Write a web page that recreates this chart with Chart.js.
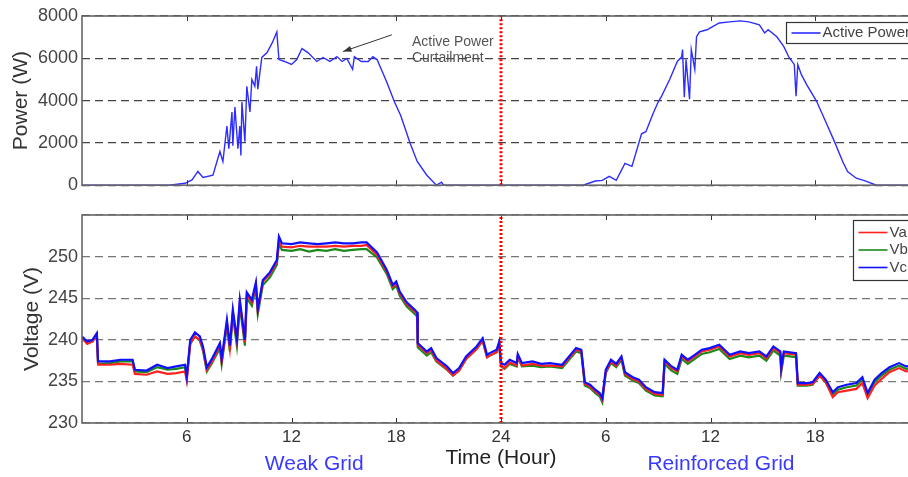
<!DOCTYPE html>
<html>
<head>
<meta charset="utf-8">
<script src="https://cdn.jsdelivr.net/npm/chart.js@4"></script>
<style>
  html, body { margin: 0; padding: 0; background: #fff; overflow: hidden; }
  #wrap { position: relative; width: 930px; height: 477px; }
  canvas { position: absolute; left: 0; }
  #powerChart { top: 0; }
  #voltChart { top: 200px; }
</style>
</head>
<body>
<div id="wrap">
  <canvas id="powerChart" width="930" height="200"></canvas>
  <canvas id="voltChart" width="930" height="277"></canvas>
</div>
<script>
// data (hours from start of day 1)
const powerHours = [0, 5.0, 5.9, 6.3, 6.64, 6.93, 7.5, 7.9, 8.07, 8.3, 8.41, 8.59, 8.64, 8.76, 8.93, 9.04, 9.1, 9.16, 9.33, 9.44, 9.62, 9.73, 9.9, 10.0, 10.07, 10.3, 10.6, 10.9, 11.16, 11.28, 11.6, 12.0, 12.3, 12.6, 12.94, 13.45, 13.8, 14.2, 14.6, 14.9, 15.17, 15.5, 15.6, 16.0, 16.4, 16.66, 16.9, 17.46, 17.9, 18.26, 18.8, 19.2, 19.75, 20.3, 20.6, 20.7, 28.7, 29.4, 29.8, 30.2, 30.6, 31.1, 31.5, 32.05, 32.3, 32.7, 33.0, 33.2, 33.66, 34.1, 34.35, 34.4, 34.5, 34.6, 34.8, 34.9, 35.1, 35.2, 35.37, 35.8, 36.1, 36.5, 37.1, 37.7, 38.2, 38.8, 39.1, 39.3, 39.8, 40.2, 40.5, 40.8, 40.9, 41.0, 41.2, 41.5, 42.07, 42.6, 43.1, 43.57, 43.85, 44.35, 44.9, 45.5, 48];
const powerWatts = [0, 0, 90, 250, 650, 370, 470, 1590, 1120, 2800, 1730, 3460, 1870, 3700, 1730, 2800, 1400, 3930, 2060, 4680, 3460, 5000, 4680, 5620, 4540, 6040, 6270, 6740, 7250, 5940, 5850, 5710, 5940, 6460, 6270, 5850, 6040, 5850, 6080, 5850, 5990, 5480, 6080, 5850, 5850, 6080, 5940, 4870, 3930, 3280, 1970, 1120, 470, 0, 140, 0, 0, 200, 230, 420, 230, 1030, 890, 2430, 2530, 3370, 3930, 4210, 5000, 5850, 6080, 6410, 4160, 5940, 4070, 6410, 5480, 7020, 7250, 7350, 7490, 7670, 7720, 7770, 7720, 7580, 7200, 7350, 7020, 6550, 6040, 5710, 4210, 5710, 5240, 4770, 3980, 3000, 2060, 1120, 650, 330, 190, 0, 0];

const voltHours = [0, 0.3, 0.6, 0.85, 0.92, 1.6, 2.2, 2.9, 3.03, 3.7, 4.3, 4.9, 5.4, 5.9, 6.0, 6.2, 6.47, 6.75, 6.93, 7.15, 7.44, 7.9, 8.0, 8.3, 8.47, 8.64, 8.87, 9.04, 9.33, 9.44, 9.73, 9.96, 10.07, 10.36, 10.76, 11.16, 11.28, 11.45, 12.0, 12.5, 13.0, 13.5, 14.0, 14.5, 15.0, 15.5, 16.0, 16.3, 16.9, 17.46, 17.8, 18.0, 18.2, 18.6, 19.06, 19.2, 19.23, 19.75, 20.0, 20.3, 20.9, 21.25, 21.6, 22.0, 22.6, 22.95, 23.2, 23.35, 23.75, 23.9, 24.0, 24.2, 24.5, 24.9, 24.96, 25.2, 25.8, 26.3, 26.8, 27.5, 27.9, 28.3, 28.6, 28.8, 29.1, 29.4, 29.65, 29.8, 30.0, 30.3, 30.6, 30.9, 31.1, 31.55, 31.9, 32.3, 32.8, 33.26, 33.37, 33.77, 34.1, 34.35, 34.7, 35.1, 35.5, 35.95, 36.5, 37.1, 37.7, 38.2, 38.8, 39.2, 39.6, 40.0, 40.05, 40.2, 40.9, 41.0, 41.5, 41.85, 42.25, 42.6, 43.0, 43.3, 43.8, 44.35, 44.7, 45.0, 45.4, 45.8, 46.25, 46.8, 47.2, 48];
const vcVolts = [240.4, 239.8, 240.0, 240.8, 237.4, 237.4, 237.6, 237.6, 236.4, 236.3, 237.0, 236.6, 236.8, 237.0, 235.6, 240.0, 240.9, 240.4, 239.2, 236.7, 237.7, 239.6, 237.7, 242.4, 239.3, 243.6, 240.1, 244.8, 240.0, 245.7, 244.8, 246.9, 243.7, 247.2, 248.1, 249.6, 252.4, 251.6, 251.5, 251.7, 251.6, 251.5, 251.6, 251.7, 251.6, 251.6, 251.7, 251.7, 250.5, 248.4, 246.6, 247.0, 245.8, 244.5, 243.6, 243.3, 239.6, 238.6, 239.0, 237.8, 236.8, 236.0, 236.6, 238.0, 239.2, 240.2, 238.2, 238.4, 238.8, 239.8, 237.2, 237.0, 237.6, 237.2, 238.3, 237.2, 237.4, 237.1, 237.2, 237.0, 238.0, 239.0, 238.8, 234.9, 234.6, 234.0, 233.6, 233.0, 236.4, 237.6, 237.1, 238.0, 236.1, 235.5, 235.2, 234.3, 233.7, 233.6, 237.6, 236.8, 236.4, 238.2, 237.6, 238.2, 238.8, 239.0, 239.4, 238.2, 238.6, 238.4, 238.6, 238.0, 239.2, 238.6, 236.6, 238.6, 238.4, 234.8, 234.8, 234.9, 236.0, 235.2, 233.7, 234.3, 234.6, 234.8, 235.5, 233.6, 235.2, 236.0, 236.7, 237.2, 236.8, 237.0];
const vaVolts = [240.2, 239.5, 239.8, 240.6, 237.0, 237.0, 237.1, 237.0, 235.9, 235.8, 236.2, 235.9, 236.0, 236.2, 235.1, 239.6, 240.4, 240.0, 238.9, 236.4, 237.4, 239.3, 237.4, 242.0, 239.0, 243.3, 239.8, 244.5, 239.7, 245.4, 244.5, 246.6, 243.5, 247.0, 247.9, 249.4, 252.0, 251.2, 251.1, 251.3, 251.2, 251.2, 251.2, 251.3, 251.2, 251.3, 251.3, 251.4, 250.2, 248.2, 246.4, 246.8, 245.6, 244.3, 243.4, 243.1, 239.4, 238.4, 238.8, 237.5, 236.5, 235.7, 236.3, 237.7, 238.9, 239.9, 237.9, 238.1, 238.5, 239.5, 236.9, 236.6, 237.3, 236.9, 238.0, 236.9, 237.1, 236.9, 236.9, 236.8, 237.8, 238.8, 238.6, 234.7, 234.4, 233.8, 233.4, 232.8, 236.1, 237.4, 236.9, 237.8, 235.9, 235.3, 235.0, 234.1, 233.5, 233.4, 237.4, 236.6, 236.2, 238.0, 237.4, 238.0, 238.6, 238.8, 239.2, 238.0, 238.4, 238.2, 238.4, 237.8, 239.0, 238.4, 236.4, 238.4, 238.2, 234.6, 234.6, 234.7, 235.7, 234.9, 233.1, 233.7, 233.9, 234.1, 234.8, 233.0, 234.5, 235.3, 236.1, 236.6, 236.2, 236.4];
const vbVolts = [240.2, 239.6, 239.8, 240.6, 237.1, 237.2, 237.4, 237.4, 236.2, 236.1, 236.7, 236.4, 236.5, 236.7, 235.4, 239.5, 240.4, 239.9, 238.7, 236.2, 237.2, 239.0, 237.1, 241.7, 238.6, 242.9, 239.3, 244.1, 239.3, 245.0, 244.1, 246.3, 243.1, 246.6, 247.5, 249.0, 251.6, 250.8, 250.7, 250.9, 250.6, 250.8, 250.7, 250.9, 250.7, 250.8, 250.9, 250.9, 249.9, 247.9, 246.1, 246.5, 245.3, 244.0, 243.1, 242.8, 239.1, 238.1, 238.5, 237.4, 236.4, 235.7, 236.3, 237.7, 238.9, 239.9, 237.9, 238.1, 238.5, 239.5, 236.8, 236.5, 237.1, 236.8, 237.9, 236.8, 236.9, 236.7, 236.8, 236.6, 237.6, 238.6, 238.4, 234.5, 234.2, 233.6, 233.2, 232.5, 236.0, 237.2, 236.7, 237.6, 235.7, 235.1, 234.8, 233.9, 233.3, 233.2, 237.1, 236.3, 235.9, 237.7, 237.1, 237.7, 238.3, 238.5, 238.9, 237.7, 238.1, 237.9, 238.1, 237.5, 238.7, 238.1, 236.1, 238.1, 237.9, 234.5, 234.5, 234.6, 235.7, 234.9, 233.4, 234.0, 234.3, 234.5, 235.2, 233.3, 234.9, 235.7, 236.4, 236.9, 236.5, 236.7];

const dividerHour = 24;
const hourLabels = {6: '6', 12: '12', 18: '18', 24: '24', 30: '6', 36: '12', 42: '18'};

const FONT = '"Liberation Sans", Arial, sans-serif';
Chart.defaults.font.family = FONT;

const toPoints = (xs, ys) => xs.map((x, i) => ({ x: x, y: ys[i] }));

// frame, inner tick marks, legend box and free text
const panelDecor = {
  id: 'panelDecor',
  afterDraw(chart, args, opts) {
    const ctx = chart.ctx;
    const a = chart.chartArea;
    const xs = chart.scales.x;
    ctx.save();
    ctx.strokeStyle = '#333';
    ctx.lineWidth = 1;
    Object.keys(hourLabels).forEach(h => {
      const px = Math.round(xs.getPixelForValue(+h)) + 0.5;
      ctx.beginPath();
      ctx.moveTo(px, a.top); ctx.lineTo(px, a.top + 5);
      ctx.moveTo(px, a.bottom); ctx.lineTo(px, a.bottom - 5);
      ctx.stroke();
    });
    ctx.strokeStyle = '#666';
    ctx.lineWidth = 1.6;
    ctx.strokeRect(a.left, a.top, a.right - a.left, a.bottom - a.top);

    // legend
    const lg = opts.legend;
    ctx.fillStyle = '#fff';
    ctx.fillRect(lg.x, lg.y, lg.w, lg.h);
    ctx.strokeStyle = '#333';
    ctx.lineWidth = 1.2;
    ctx.strokeRect(lg.x, lg.y, lg.w, lg.h);
    ctx.font = '15px ' + FONT;
    ctx.textBaseline = 'middle';
    ctx.textAlign = 'left';
    opts.legendItems.forEach((it, i) => {
      const y = lg.y + lg.first + i * lg.step;
      ctx.strokeStyle = it.color;
      ctx.lineWidth = 1.6;
      ctx.beginPath();
      ctx.moveTo(lg.x + 5, y); ctx.lineTo(lg.x + 34, y);
      ctx.stroke();
      ctx.fillStyle = '#444';
      ctx.fillText(it.text, lg.x + 36, y);
    });

    // free text placed at data coordinates
    (opts.texts || []).forEach(t => {
      ctx.font = t.size + 'px ' + FONT;
      ctx.fillStyle = t.color;
      ctx.textAlign = t.align;
      ctx.fillText(t.text, xs.getPixelForValue(t.hour), t.yPx);
    });

    if (opts.arrow) {
      const ys = chart.scales.y;
      const x1 = xs.getPixelForValue(opts.arrow.from[0]), y1 = ys.getPixelForValue(opts.arrow.from[1]);
      const x2 = xs.getPixelForValue(opts.arrow.to[0]), y2 = ys.getPixelForValue(opts.arrow.to[1]);
      ctx.strokeStyle = '#333';
      ctx.fillStyle = '#333';
      ctx.lineWidth = 1;
      ctx.beginPath();
      ctx.moveTo(x1, y1); ctx.lineTo(x2, y2);
      ctx.stroke();
      const ang = Math.atan2(y2 - y1, x2 - x1);
      ctx.beginPath();
      ctx.moveTo(x2, y2);
      ctx.lineTo(x2 - 9 * Math.cos(ang - 0.35), y2 - 9 * Math.sin(ang - 0.35));
      ctx.lineTo(x2 - 9 * Math.cos(ang + 0.35), y2 - 9 * Math.sin(ang + 0.35));
      ctx.closePath();
      ctx.fill();
    }
    ctx.restore();
  }
};

// top panel: active power
new Chart(document.getElementById('powerChart'), {
  type: 'line',
  data: {
    datasets: [
      {
        label: 'Active Power',
        data: toPoints(powerHours, powerWatts),
        borderColor: 'rgb(45,45,255)',
        borderWidth: 1.4,
        pointRadius: 0,
        order: 1
      },
      {
        label: 'divider',
        data: [{ x: dividerHour, y: 0 }, { x: dividerHour, y: 8000 }],
        borderColor: '#ff0000',
        borderWidth: 3,
        borderDash: [2, 2],
        pointRadius: 0,
        order: 0
      }
    ]
  },
  options: {
    responsive: false,
    animation: false,
    layout: { padding: { top: 16, right: 10, bottom: 13, left: 0 } },
    scales: {
      x: { type: 'linear', min: 0, max: 48, display: false },
      y: {
        min: 0,
        max: 8000,
        ticks: { stepSize: 2000, color: '#444', font: { size: 18 }, padding: 4, callback: v => String(v) },
        grid: { color: '#444', lineWidth: 1.3, drawTicks: false },
        border: { display: false, dash: [8, 5] },
        title: { display: true, text: 'Power (W)', color: '#333', font: { size: 21 }, padding: { top: 9, bottom: 0 } },
        afterFit: s => { s.width = 82; }
      }
    },
    plugins: {
      legend: { display: false },
      tooltip: { enabled: false },
      panelDecor: {
        legend: { x: 786.5, y: 22.5, w: 200, h: 21, first: 10.5, step: 0 },
        legendItems: [{ text: 'Active Power', color: 'rgb(45,45,255)' }],
        texts: [
          { text: 'Active Power', hour: 18.9, yPx: 42, size: 14, color: '#555', align: 'left' },
          { text: 'Curtailment', hour: 18.9, yPx: 58, size: 14, color: '#555', align: 'left' }
        ],
        arrow: { from: [17.75, 7110], to: [14.95, 6320] }
      }
    }
  },
  plugins: [panelDecor]
});

// bottom panel: phase voltages
new Chart(document.getElementById('voltChart'), {
  type: 'line',
  data: {
    datasets: [
      { label: 'Va', data: toPoints(voltHours, vaVolts), borderColor: '#ff2020', borderWidth: 2.2, pointRadius: 0, order: 3 },
      { label: 'Vb', data: toPoints(voltHours, vbVolts), borderColor: '#1a8a1a', borderWidth: 2.2, pointRadius: 0, order: 4 },
      { label: 'Vc', data: toPoints(voltHours, vcVolts), borderColor: '#1010ff', borderWidth: 2.2, pointRadius: 0, order: 2 },
      {
        label: 'divider',
        data: [{ x: dividerHour, y: 230 }, { x: dividerHour, y: 255 }],
        borderColor: '#ff0000',
        borderWidth: 3,
        borderDash: [2, 2],
        pointRadius: 0,
        order: 0
      }
    ]
  },
  options: {
    responsive: false,
    animation: false,
    layout: { padding: { top: 15, right: 10, bottom: 0, left: 0 } },
    scales: {
      x: {
        type: 'linear',
        min: 0,
        max: 48,
        ticks: {
          stepSize: 6,
          autoSkip: false,
          maxRotation: 0,
          color: '#333',
          font: { size: 17 },
          padding: 4,
          callback: v => hourLabels[v] || ''
        },
        grid: { display: false, drawTicks: false },
        border: { display: false },
        title: { display: true, text: 'Time (Hour)', color: '#222', font: { size: 21 }, padding: { top: 0, bottom: 6 } },
        afterFit: s => { s.height = 54; }
      },
      y: {
        min: 230,
        max: 255,
        ticks: { stepSize: 5, color: '#444', font: { size: 18 }, padding: 4, callback: v => (v === 255 ? '' : v) },
        grid: { color: '#777', lineWidth: 1.3, drawTicks: false },
        border: { display: false, dash: [8, 5] },
        title: { display: true, text: 'Voltage (V)', color: '#333', font: { size: 21 }, padding: { top: 20, bottom: 0 } },
        afterFit: s => { s.width = 82; }
      }
    },
    plugins: {
      legend: { display: false },
      tooltip: { enabled: false },
      panelDecor: {
        legend: { x: 853.5, y: 20.5, w: 100, h: 60, first: 12, step: 17.5 },
        legendItems: [
          { text: 'Va', color: '#ff2020' },
          { text: 'Vb', color: '#1a8a1a' },
          { text: 'Vc', color: '#1010ff' }
        ],
        texts: [
          { text: 'Weak Grid', hour: 13.3, yPx: 264, size: 21, color: '#3a3aff', align: 'center' },
          { text: 'Reinforced Grid', hour: 36.6, yPx: 264, size: 21, color: '#3a3aff', align: 'center' }
        ]
      }
    }
  },
  plugins: [panelDecor]
});
</script>
</body>
</html>
